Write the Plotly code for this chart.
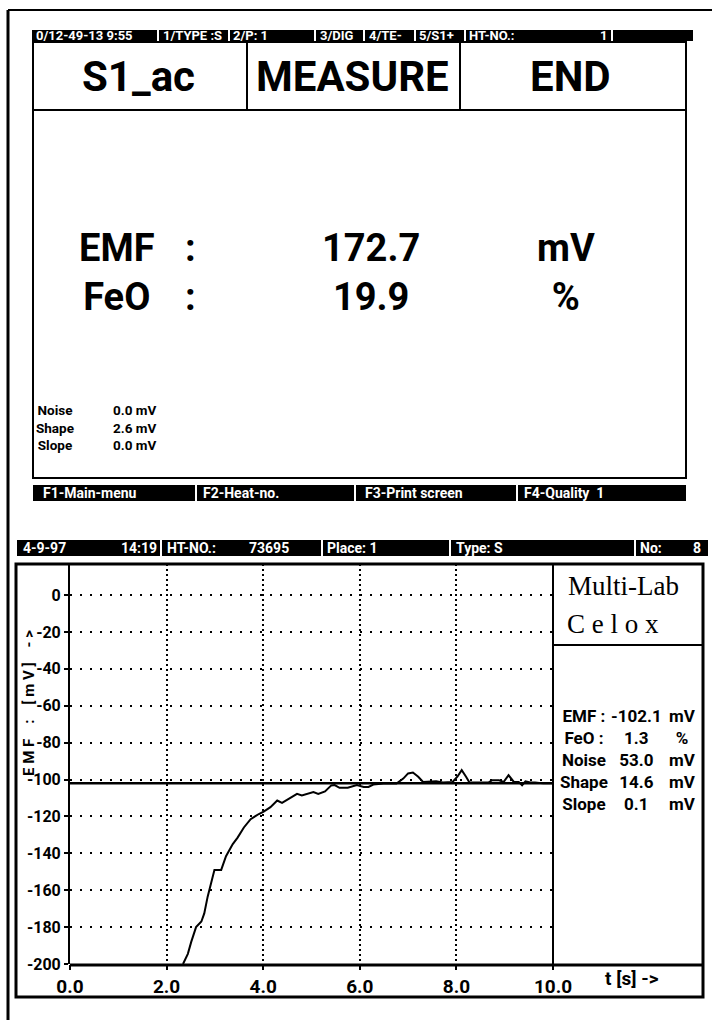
import plotly.graph_objects as go

# ------------------------------------------------------------------ data
t_s = [2.34, 2.44, 2.51, 2.61, 2.72, 2.78, 2.85, 2.92, 2.99, 3.13, 3.23, 3.37,
       3.47, 3.60, 3.74, 3.91, 4.01, 4.15, 4.29, 4.39, 4.53, 4.70, 4.80, 4.94,
       5.04, 5.14, 5.28, 5.41, 5.48, 5.58, 5.75, 5.94, 6.08, 6.18, 6.28, 6.49,
       6.76, 6.90, 7.00, 7.10, 7.21, 7.31, 7.45, 7.58, 7.72, 7.85, 7.92, 8.02,
       8.11, 8.20, 8.27, 8.47, 8.67, 8.74, 8.88, 8.98, 9.08, 9.19, 9.29, 9.36,
       9.43, 9.53, 9.63, 9.80, 10.0]
emf_mv = [-200, -194.5, -188, -180, -177, -172.6, -163.5, -156, -149, -149, -141.6, -135,
          -131.5, -126, -121.5, -118.7, -117.4, -115, -111.4, -112.7, -110.5, -107.8, -108.7, -107.8,
          -106.8, -107.8, -106.5, -103.2, -103, -104.5, -104.5, -103, -104, -104, -102.7, -102.2,
          -102.2, -99.5, -96.7, -96.2, -98.5, -101.3, -101.3, -101, -101.6, -101.6, -101.3, -98.5,
          -94.9, -98.5, -101.6, -101.6, -101.6, -100.4, -100.4, -101.3, -97.7, -101.3, -101.3, -103.1,
          -101, -101.6, -101.6, -102.1, -102.1]
emf_final = -102.1

y_ticks = [0, -20, -40, -60, -80, -100, -120, -140, -160, -180, -200]
y_tick_text = ["0", "-20", "-40", "-60", "-80", "-100", "-120", "-140", "-160", "-180", "-200"]
x_ticks = [0, 2, 4, 6, 8, 10]
x_tick_text = ["0.0", "2.0", "4.0", "6.0", "8.0", "10.0"]

top_header_text = ["0/12-49-13 9:55", "1/TYPE :S", "2/P: 1", "3/DIG", "4/TE-", "5/S1+", "HT-NO.:", "1"]
top_title_text = ["S1_ac", "MEASURE", "END"]
top_main_labels = ["EMF", "FeO"]
top_main_values = ["172.7", "19.9"]
top_main_units = ["mV", "%"]
top_quality_labels = ["Noise", "Shape", "Slope"]
top_quality_values = ["0.0 mV", "2.6 mV", "0.0 mV"]
top_footer_text = ["F1-Main-menu", "F2-Heat-no.", "F3-Print screen", "F4-Quality  1"]

low_header_text = ["4-9-97", "14:19", "HT-NO.:", "73695", "Place: 1", "Type: S", "No:", "8"]
brand_text = ["Multi-Lab", "C e l o x"]
info_labels = ["EMF :", "FeO :", "Noise", "Shape", "Slope"]
info_values = ["-102.1", "1.3", "53.0", "14.6", "0.1"]
info_units = ["mV", "%", "mV", "mV", "mV"]
y_title = "EMF : [mV] ->"
x_title = "t [s] ->"

# ------------------------------------------------------------------ helpers
W, H = 712, 1028
SCREEN = "Roboto, DejaVu Sans, sans-serif"
SERIF = "Liberation Serif, DejaVu Serif, serif"


def px(x):
    return x / W


def py(y):
    return 1 - y / H


shapes = []
annots = []


def rect(x0, y0, x1, y1, fill=None, lw=2):
    shapes.append(dict(type="rect", xref="paper", yref="paper",
                       x0=px(x0), x1=px(x1), y0=py(y1), y1=py(y0),
                       line=dict(color="black", width=lw),
                       fillcolor=fill if fill else "rgba(0,0,0,0)", layer="above"))


def line(x0, y0, x1, y1, lw=2, color="black"):
    shapes.append(dict(type="line", xref="paper", yref="paper",
                       x0=px(x0), x1=px(x1), y0=py(y0), y1=py(y1),
                       line=dict(color=color, width=lw), layer="above"))


def text(s, x, y, size, anchor="left", color="black", family=SCREEN, weight="bold", angle=0):
    annots.append(dict(text=s, x=px(x), y=py(y), xref="paper", yref="paper",
                       xanchor=anchor, yanchor="middle", showarrow=False,
                       textangle=angle, borderpad=0,
                       font=dict(family=family, size=size, color=color, weight=weight)))


def spaced(s):
    # widen a label the way the instrument font spaces its glyphs
    out = []
    for ch in s:
        out.append("\u00a0\u00a0\u00a0" if ch == " " else ch + "\u00a0")
    return "".join(out).rstrip("\u00a0")


# ------------------------------------------------------------------ page border
line(8, 10, 712, 10, lw=2)
line(8, 10, 8, 1020, lw=3)

# ------------------------------------------------------------------ upper screen
rect(32, 30, 693, 41, fill="black", lw=0)
for xs in [158, 229, 315, 364, 415, 465, 612]:
    line(xs, 30, xs, 41, lw=2, color="white")
hdr_x = [35, 162, 232, 319, 368, 418, 468]
for s, x in zip(top_header_text[:-1], hdr_x):
    text(s, x, 36, 13, color="white")
text(top_header_text[-1], 608, 36, 13, anchor="right", color="white")

rect(33, 42, 686, 110, lw=2)
line(247, 42, 247, 110, lw=2)
line(460, 42, 460, 110, lw=2)
for s, x in zip(top_title_text, [138, 352, 570]):
    text(s, x, 77, 42, anchor="center")

rect(33, 110, 686, 478, lw=2)
BIG = 38
text("<br>".join(top_main_labels), 78, 273, BIG)
text("<br>".join([":", ":"]), 190, 273, BIG, anchor="center")
text("<br>".join(top_main_values), 421, 273, BIG, anchor="right")
text("<br>".join(top_main_units), 566, 273, BIG, anchor="center")

text("<br>".join(top_quality_labels), 35, 427, 13.5)
text("<br>".join(top_quality_values), 112, 427, 13.5)

rect(33, 485, 686, 501, fill="black", lw=0)
for xs in [196, 355, 517]:
    line(xs, 485, xs, 501, lw=2, color="white")
for s, x in zip(top_footer_text, [42, 202, 364, 523]):
    text(s, x, 493, 14, color="white")

# ------------------------------------------------------------------ lower screen
rect(17, 540, 708, 556, fill="black", lw=0)
for xs in [161, 322, 450, 635]:
    line(xs, 540, xs, 556, lw=2, color="white")
low_x = [(22, "left"), (158, "right"), (166, "left"), (290, "right"),
         (326, "left"), (455, "left"), (639, "left"), (702, "right")]
for s, (x, a) in zip(low_header_text, low_x):
    text(s, x, 548, 14, anchor=a, color="white")

rect(16, 564, 703, 997, lw=3)
line(553, 564, 553, 965, lw=2)
line(553, 645, 703, 645, lw=2)
line(70, 965, 703, 965, lw=3)

text(brand_text[0], 567, 586, 27, family=SERIF, weight="normal")
text(brand_text[1], 566, 624, 27, family=SERIF, weight="normal")

text("<br>".join(info_labels), 559, 760, 17)
text("<br>".join(info_values), 663, 760, 17, anchor="right")
text("<br>".join(info_units), 668, 760, 17)

text(spaced(y_title), 19, 703, 15, angle=-90)
text(x_title, 604, 978, 19)

# ------------------------------------------------------------------ traces
fig = go.Figure()
fig.add_trace(go.Scatter(x=[0, 10], y=[emf_final, emf_final], mode="lines",
                         line=dict(color="black", width=2.5), hoverinfo="skip"))
fig.add_trace(go.Scatter(x=t_s, y=emf_mv, mode="lines",
                         line=dict(color="black", width=2)))

y_px_per_unit = (964 - 595) / 200.0
y_top = (595 - 564) / y_px_per_unit

fig.update_layout(
    width=W, height=H, margin=dict(l=0, r=0, t=0, b=0, pad=0, autoexpand=False),
    paper_bgcolor="white", plot_bgcolor="white", showlegend=False,
    font=dict(family=SCREEN, color="black"),
    shapes=shapes, annotations=annots,
    xaxis=dict(domain=[px(70), px(553)], range=[0, 10], tickvals=x_ticks, ticktext=x_tick_text,
               showgrid=True, gridcolor="black", gridwidth=2, griddash="2px,3px",
               zeroline=False, showline=False, ticks="outside", ticklen=5, tickwidth=2,
               tickcolor="black", automargin=False,
               tickfont=dict(family=SCREEN, size=19, weight="bold", color="black")),
    yaxis=dict(domain=[py(964), py(564)], range=[-200, y_top], tickvals=y_ticks, ticktext=y_tick_text,
               showgrid=True, gridcolor="black", gridwidth=2, griddash="2px,8px",
               zeroline=False, showline=True, linecolor="black", linewidth=2,
               ticks="outside", ticklen=4, tickwidth=2, tickcolor="black", automargin=False,
               tickfont=dict(family=SCREEN, size=16, weight="bold", color="black")),
)

fig.write_html("out.html", config={"displayModeBar": False},
               post_script="document.body.style.margin='0px';document.body.style.overflow='hidden';")
